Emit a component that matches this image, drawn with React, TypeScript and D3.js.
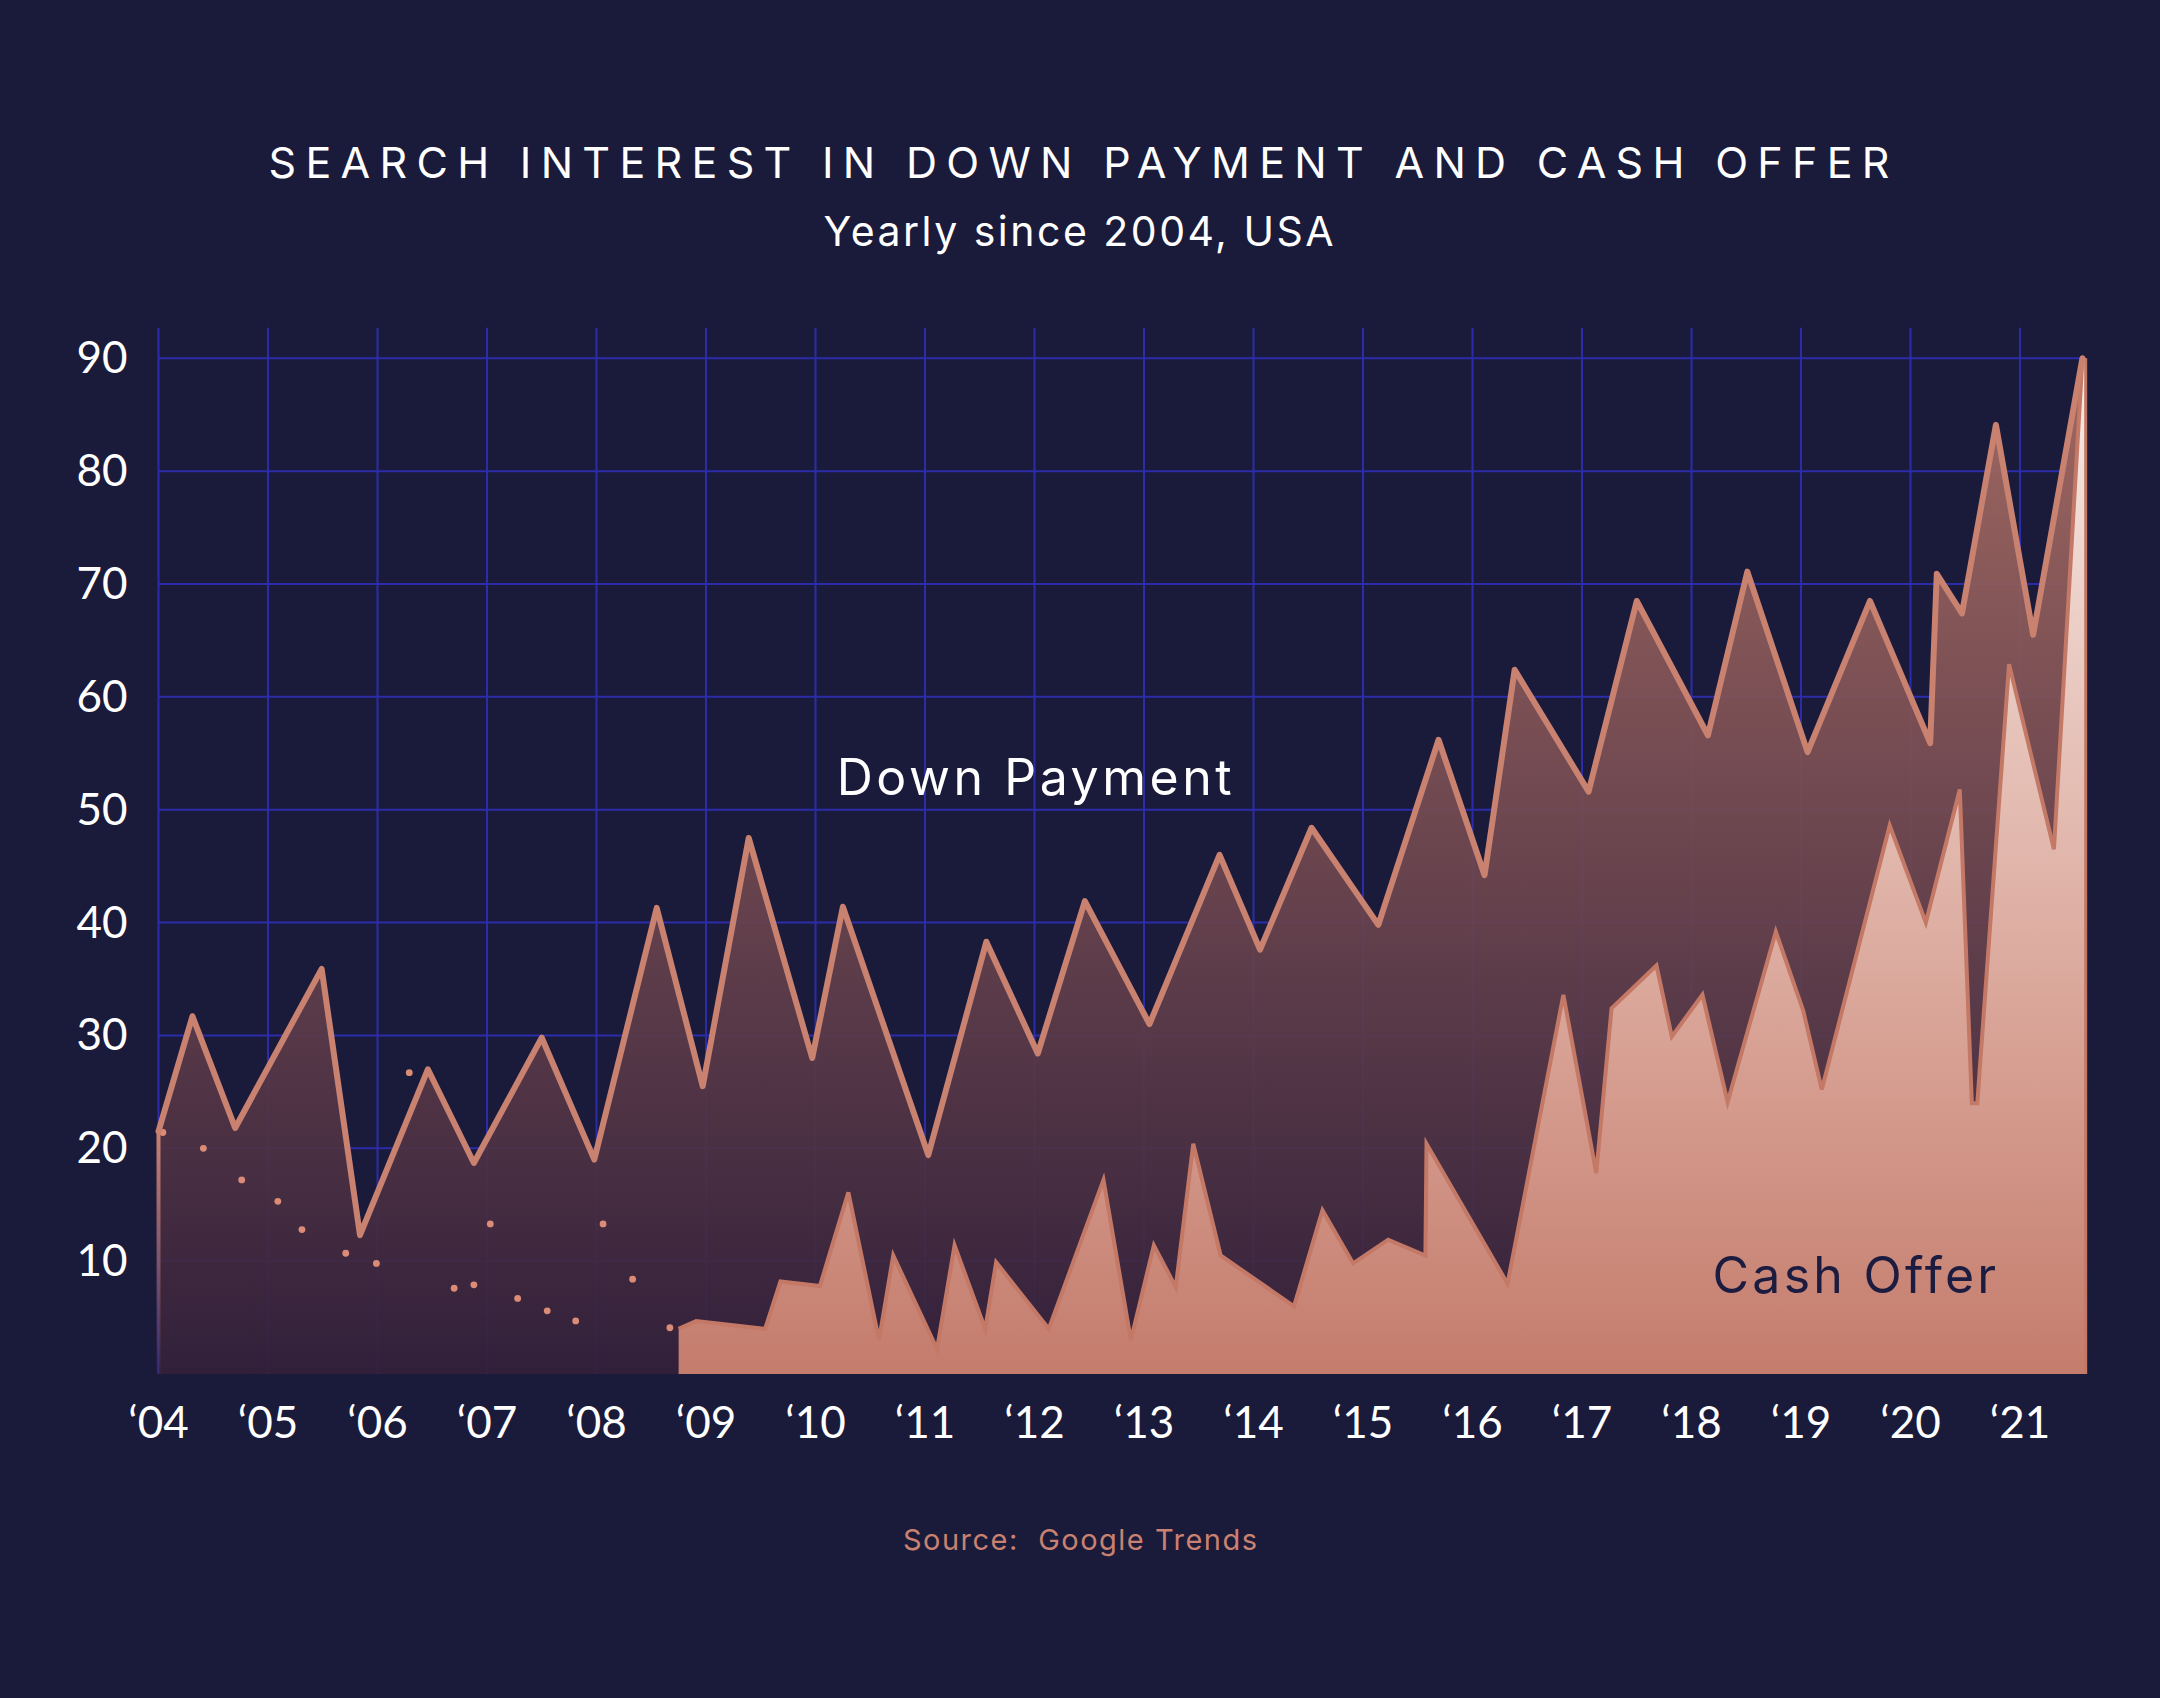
import React from 'react';
import * as d3 from 'd3';

const W = 2160;
const H = 1698;

// Down Payment series (decimal year, search interest)
const dpTime = [2004.0, 2004.31, 2004.7, 2005.49, 2005.84, 2006.46, 2006.88, 2007.5, 2007.98, 2008.55, 2008.97, 2009.39, 2009.97, 2010.25, 2011.03, 2011.56, 2012.03, 2012.46, 2013.05, 2013.69, 2014.06, 2014.53, 2015.14, 2015.69, 2016.11, 2016.385, 2017.06, 2017.5, 2018.15, 2018.51, 2019.06, 2019.63, 2020.18, 2020.24, 2020.47, 2020.78, 2021.12, 2021.57];
const dpValue = [21.5, 31.7, 21.8, 35.9, 12.3, 27.0, 18.7, 29.8, 19.0, 41.3, 25.5, 47.5, 28.0, 41.4, 19.4, 38.3, 28.4, 41.9, 31.0, 46.0, 37.6, 48.4, 39.8, 56.2, 44.2, 62.4, 51.6, 68.5, 56.6, 71.1, 55.1, 68.5, 55.9, 70.9, 67.4, 84.1, 65.5, 90.0];

// Cash Offer series (decimal year, search interest)
const coTime = [2008.75, 2008.91, 2009.54, 2009.68, 2010.04, 2010.3, 2010.58, 2010.71, 2011.11, 2011.27, 2011.55, 2011.65, 2012.13, 2012.63, 2012.88, 2013.09, 2013.29, 2013.45, 2013.7, 2014.37, 2014.63, 2014.91, 2015.23, 2015.57, 2015.58, 2016.32, 2016.83, 2017.13, 2017.27, 2017.68, 2017.82, 2018.1, 2018.33, 2018.77, 2019.02, 2019.19, 2019.81, 2020.14, 2020.45, 2020.56, 2020.61, 2020.9, 2021.31, 2021.57];
const coValue = [4.0, 4.7, 4.0, 8.2, 7.8, 16.1, 3.0, 10.5, 2.2, 11.4, 4.0, 9.9, 4.0, 17.2, 3.0, 11.4, 7.7, 20.4, 10.5, 6.0, 14.5, 9.8, 11.9, 10.5, 20.4, 8.0, 33.6, 17.8, 32.4, 36.2, 29.9, 33.6, 24.1, 39.2, 32.2, 25.2, 48.6, 40.0, 51.8, 24.0, 24.0, 62.9, 46.5, 90.0];

// Early Cash Offer readings shown as dots
const dotTime = [2004.04, 2004.41, 2004.76, 2005.09, 2005.31, 2005.71, 2005.99, 2006.29, 2006.7, 2006.88, 2007.03, 2007.28, 2007.55, 2007.81, 2008.06, 2008.33, 2008.67];
const dotValue = [21.4, 20.0, 17.2, 15.3, 12.8, 10.7, 9.8, 26.7, 7.6, 7.9, 13.3, 6.7, 5.6, 4.7, 13.3, 8.4, 4.1];

const yTicks = [10, 20, 30, 40, 50, 60, 70, 80, 90];
const xTickYears = [2004, 2005, 2006, 2007, 2008, 2009, 2010, 2011, 2012, 2013, 2014, 2015, 2016, 2017, 2018, 2019, 2020, 2021];
const xTickLabels = ['\u201804', '\u201805', '\u201806', '\u201807', '\u201808', '\u201809', '\u201810', '\u201811', '\u201812', '\u201813', '\u201814', '\u201815', '\u201816', '\u201817', '\u201818', '\u201819', '\u201820', '\u201821'];

const FONT = "Lato, 'Open Sans', sans-serif";
const WIDE_FONT = "Inter, 'Open Sans', sans-serif";
const BG = '#1a1a3b';
const GRID = '#2c2cab';
const SALMON = '#c98170';

export default function App() {
  const x = d3.scaleLinear().domain([2004, 2021.6]).range([158.5, 2085.7]);
  const y = d3.scaleLinear().domain([0, 90]).range([1374, 358.3]);

  const dp: [number, number][] = dpTime.map((t, i) => [t, dpValue[i]]);
  const co: [number, number][] = coTime.map((t, i) => [t, coValue[i]]);

  const area = d3
    .area<[number, number]>()
    .x((d) => x(d[0]))
    .y0(y(0))
    .y1((d) => y(d[1]));
  const line = d3
    .line<[number, number]>()
    .x((d) => x(d[0]))
    .y((d) => y(d[1]));

  const gridTop = y(92.7);
  const xMin = x(2004);
  const xMax = x(2021.6);

  const dpFull: [number, number][] = [...dp, [2021.6, dpValue[dpValue.length - 1]]];
  const coFull: [number, number][] = [...co, [2021.6, coValue[coValue.length - 1]]];

  return (
    <div style={{ width: W, height: H, background: BG }}>
      <style>{'html,body{margin:0;padding:0;background:' + BG + ';}'}</style>
      <svg width={W} height={H} viewBox={`0 0 ${W} ${H}`} style={{ display: 'block' }}>
        <defs>
          <linearGradient id="dpFill" gradientUnits="userSpaceOnUse" x1="0" x2="0" y1={y(90)} y2={y(0)}>
            <stop offset="0" stopColor="#aa6e64" />
            <stop offset="1" stopColor="#33203a" />
          </linearGradient>
          <linearGradient id="coFill" gradientUnits="userSpaceOnUse" x1="0" x2="0" y1={y(90)} y2={y(0)}>
            <stop offset="0" stopColor="#f7ebe6" />
            <stop offset="0.6" stopColor="#dcaa9e" />
            <stop offset="1" stopColor="#c47c6c" />
          </linearGradient>
          <linearGradient id="edgeFade" gradientUnits="userSpaceOnUse" x1="0" x2="0" y1={y(dpValue[0])} y2={y(0)}>
            <stop offset="0" stopColor={SALMON} stopOpacity="1" />
            <stop offset="1" stopColor={SALMON} stopOpacity="0.05" />
          </linearGradient>
        </defs>

        <rect x={0} y={0} width={W} height={H} fill={BG} />

        {/* Title */}
        <text x={1079} y={178} fill="#ffffff" fontFamily={WIDE_FONT} fontSize={43} textAnchor="middle" textLength={1621} lengthAdjust="spacing">
          SEARCH INTEREST IN DOWN PAYMENT AND CASH OFFER
        </text>
        <text x={1078.5} y={246} fill="#ffffff" fontFamily={WIDE_FONT} fontSize={41} textAnchor="middle" textLength={510} lengthAdjust="spacing">
          Yearly since 2004, USA
        </text>

        {/* Grid */}
        <g>
          {xTickYears.map((yr) => (
            <line key={'vx' + yr} x1={x(yr)} x2={x(yr)} y1={gridTop} y2={y(0)} stroke={GRID} strokeWidth={2} />
          ))}
          {yTicks.map((v) => (
            <line key={'hy' + v} x1={xMin} x2={xMax} y1={y(v)} y2={y(v)} stroke={GRID} strokeWidth={2} />
          ))}
        </g>

        {/* Y axis labels */}
        {yTicks.map((v) => (
          <text key={'yl' + v} x={127.6} y={y(v) + 15} fill="#ffffff" fontFamily={FONT} fontSize={44} textAnchor="end">
            {v}
          </text>
        ))}

        {/* X axis labels */}
        {xTickYears.map((yr, i) => (
          <text key={'xl' + yr} x={x(yr)} y={1438} fill="#ffffff" fontFamily={FONT} fontSize={44} textAnchor="middle">
            {xTickLabels[i]}
          </text>
        ))}

        {/* Down Payment area */}
        <path d={area(dpFull) || ''} fill="url(#dpFill)" fillOpacity={0.93} />
        <line x1={xMin} x2={xMin} y1={y(dpValue[0])} y2={y(0)} stroke="url(#edgeFade)" strokeWidth={4} />

        {/* early dots */}
        {dotTime.map((t, i) => (
          <circle key={'d' + i} cx={x(t)} cy={y(dotValue[i])} r={3.4} fill="#dc8c76" />
        ))}

        {/* Cash Offer area */}
        <path d={area(coFull) || ''} fill="url(#coFill)" />
        <path d={line(co) || ''} fill="none" stroke="#c47866" strokeWidth={4} strokeLinejoin="miter" strokeMiterlimit={4} />
        <line x1={xMax} x2={xMax} y1={y(90)} y2={y(0)} stroke="#c47866" strokeWidth={3} />

        {/* Down Payment line */}
        <path d={line(dp) || ''} fill="none" stroke={SALMON} strokeWidth={6} strokeLinejoin="round" strokeLinecap="round" />

        {/* Series labels */}
        <text x={836.7} y={795} fill="#ffffff" fontFamily={WIDE_FONT} fontSize={50} textLength={395} lengthAdjust="spacing">
          Down Payment
        </text>
        <text x={1712.6} y={1293} fill="#1c1c40" fontFamily={WIDE_FONT} fontSize={50} textLength={283.6} lengthAdjust="spacing">
          Cash Offer
        </text>

        {/* Source */}
        <text x={903} y={1550} fill={SALMON} fontFamily={WIDE_FONT} fontSize={29} textLength={354} lengthAdjust="spacing" style={{ whiteSpace: 'pre' }}>
          {'Source:  Google Trends'}
        </text>
      </svg>
    </div>
  );
}
